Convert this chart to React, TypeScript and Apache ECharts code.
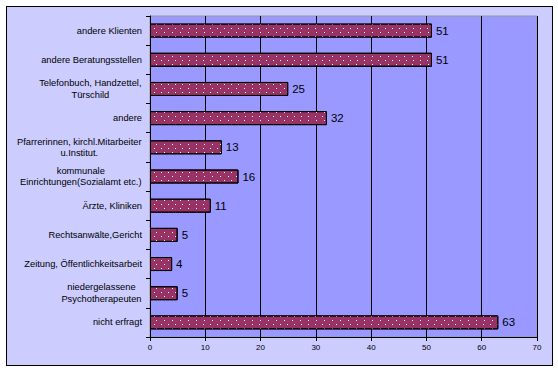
import React, { useEffect, useRef } from "react";
import * as echarts from "echarts";

const categories: string[] = [
  "andere Klienten",
  "andere Beratungsstellen",
  "Telefonbuch, Handzettel,\nTürschild",
  "andere",
  "Pfarrerinnen, kirchl.Mitarbeiter\nu.Institut.",
  "kommunale\nEinrichtungen(Sozialamt etc.)",
  "Ärzte, Kliniken",
  "Rechtsanwälte,Gericht",
  "Zeitung, Öffentlichkeitsarbeit",
  "niedergelassene\nPsychotherapeuten",
  "nicht erfragt",
];
const values: number[] = [51, 51, 25, 32, 13, 16, 11, 5, 4, 5, 63];
const xMin = 0;
const xMax = 70;
const xInterval = 10;

const FONT = '"Liberation Sans", Arial, sans-serif';
const CAT_SIZE = 9.3;

function measure(text: string, size: number): number {
  const c = document.createElement("canvas");
  const ctx = c.getContext("2d");
  if (!ctx) return text.length * size * 0.5;
  ctx.font = `${size}px ${FONT}`;
  return ctx.measureText(text).width;
}

export default function App() {
  const ref = useRef<HTMLDivElement>(null);
  useEffect(() => {
    if (!ref.current) return;
    const chart = echarts.init(ref.current, undefined, { renderer: "svg" });
    const rich: Record<string, any> = {};
    categories.forEach((cat, i) => {
      const lines = cat.split("\n");
      const w = Math.max(...lines.map((l) => measure(l, CAT_SIZE))) + 1;
      rich["c" + i] = {
        width: w,
        align: "center",
        fontSize: CAT_SIZE,
        fontFamily: FONT,
        color: "#000",
        lineHeight: 11.5,
      };
    });
    chart.setOption({
      animation: false,
      aria: { enabled: true, decal: { show: true } },
      grid: {
        left: 150,
        right: 21,
        top: 16,
        bottom: 35,
        show: true,
        backgroundColor: "#9999FF",
        borderColor: "#999999",
        borderWidth: 1,
      },
      xAxis: {
        type: "value",
        min: xMin,
        max: xMax,
        interval: xInterval,
        axisLine: { show: true, lineStyle: { color: "#000", width: 1 } },
        axisTick: { show: true, length: 4, lineStyle: { color: "#000" } },
        axisLabel: { fontSize: 8, fontFamily: FONT, color: "#000", margin: 6 },
        splitLine: { show: true, lineStyle: { color: "#000", width: 1 } },
      },
      yAxis: {
        type: "category",
        data: categories,
        inverse: true,
        axisLine: { show: true, lineStyle: { color: "#000", width: 1 } },
        axisTick: { show: true, length: 4, lineStyle: { color: "#000" } },
        axisLabel: {
          fontSize: CAT_SIZE,
          fontFamily: FONT,
          color: "#000",
          margin: 8,
          lineHeight: 11.5,
          formatter: (v: string, i: number) => {
            const lines = v.split("\n");
            if (lines.length === 1) return v;
            return lines.map((l) => `{c${i}|${l}}`).join("\n");
          },
          rich,
        },
        splitLine: { show: false },
      },
      series: [
        {
          type: "bar",
          data: values,
          barWidth: 14,
          itemStyle: {
            color: "#993366",
            borderColor: "#000",
            borderWidth: 1,
            decal: {
              symbol: "rect",
              symbolSize: 1,
              color: "#ffffff",
              dashArrayX: [
                [1, 6],
                [0, 3.5, 1, 2.5],
              ],
              dashArrayY: [1, 2.5],
              rotation: 0,
            },
          },
          label: {
            show: true,
            position: "right",
            distance: 4,
            fontSize: 11.5,
            fontFamily: FONT,
            color: "#000",
          },
        },
      ],
    });
    return () => chart.dispose();
  }, []);
  return (
    <div style={{ position: "absolute", left: 0, top: 0, width: 558, height: 372, background: "#fff" }}>
      <div
        style={{
          position: "absolute",
          left: 6,
          top: 6,
          width: 545,
          height: 358,
          border: "1px solid #000",
          background: "#CCCCFF",
        }}
      />
      <div ref={ref} style={{ position: "absolute", left: 0, top: 0, width: 558, height: 372 }} />
    </div>
  );
}
